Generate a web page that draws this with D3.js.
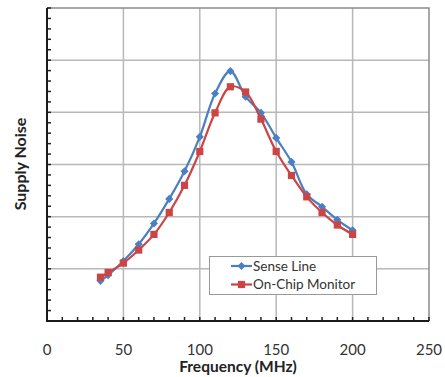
<!DOCTYPE html>
<html>
<head>
<meta charset="utf-8">
<script src="https://cdn.jsdelivr.net/npm/d3@7"></script>
<style>
  body { margin: 0; background: #fff; }
  text { font-family: Lato, "Open Sans", sans-serif; }
</style>
</head>
<body>
<script>
// Data (y is in gridline units, 0..6)
const freq = [35, 40, 50, 60, 70, 80, 90, 100, 110, 120, 130, 140, 150, 160, 170, 180, 190, 200];
const senseLine = [0.77, 0.88, 1.15, 1.47, 1.87, 2.34, 2.87, 3.53, 4.36, 4.79, 4.30, 3.99, 3.51, 3.05, 2.43, 2.19, 1.94, 1.74];
const onChip = [0.84, 0.93, 1.11, 1.36, 1.66, 2.08, 2.60, 3.25, 3.99, 4.49, 4.39, 3.87, 3.25, 2.79, 2.38, 2.08, 1.84, 1.66];
const xTicks = [0, 50, 100, 150, 200, 250];
const seriesNames = ["Sense Line", "On-Chip Monitor"];

const W = 445, H = 377;
const plotL = 47, plotR = 429, plotT = 8, plotB = 321;

const svg = d3.select("body")
    .append("svg")
    .attr("width", W)
    .attr("height", H);

const x = d3.scaleLinear().domain([0, 250]).range([plotL, plotR]);
const y = d3.scaleLinear().domain([0, 6]).range([plotB, plotT]);

// gridlines
svg.append("g")
    .selectAll("line")
    .data(d3.range(1, 6))
    .enter()
    .append("line")
    .attr("x1", plotL).attr("x2", plotR)
    .attr("y1", d => y(d)).attr("y2", d => y(d))
    .attr("stroke", "#b8b8b8")
    .attr("stroke-width", 1.5);

svg.append("g")
    .selectAll("line")
    .data(xTicks.slice(1, -1))
    .enter()
    .append("line")
    .attr("x1", d => x(d)).attr("x2", d => x(d))
    .attr("y1", plotT).attr("y2", plotB)
    .attr("stroke", "#b8b8b8")
    .attr("stroke-width", 1.5);

// top / right border
svg.append("path")
    .attr("d", `M${plotL},${plotT}H${plotR}V${plotB}`)
    .attr("fill", "none")
    .attr("stroke", "#8a8a8a")
    .attr("stroke-width", 1.5);

// minor ticks (pointing inward)
svg.append("g")
    .selectAll("line")
    .data(d3.range(0, 251, 10))
    .enter()
    .append("line")
    .attr("x1", d => x(d)).attr("x2", d => x(d))
    .attr("y1", plotB).attr("y2", plotB - 4)
    .attr("stroke", "#222")
    .attr("stroke-width", 1.5);

svg.append("g")
    .selectAll("line")
    .data(d3.range(0, 6.01, 0.2))
    .enter()
    .append("line")
    .attr("x1", plotL).attr("x2", plotL + 4)
    .attr("y1", d => y(d)).attr("y2", d => y(d))
    .attr("stroke", "#222")
    .attr("stroke-width", 1.5);

// left / bottom axes
svg.append("path")
    .attr("d", `M${plotL},${plotT}V${plotB}H${plotR}`)
    .attr("fill", "none")
    .attr("stroke", "#1a1a1a")
    .attr("stroke-width", 2);

// x tick labels
svg.append("g")
    .selectAll("text")
    .data(xTicks)
    .enter()
    .append("text")
    .attr("x", d => x(d))
    .attr("y", 355)
    .attr("text-anchor", "middle")
    .attr("font-size", 15)
    .attr("fill", "#333")
    .text(d => d);

svg.append("text")
    .attr("x", 238)
    .attr("y", 372)
    .attr("text-anchor", "middle")
    .attr("font-size", 15.5)
    .attr("font-weight", "bold")
    .attr("fill", "#222")
    .text("Frequency (MHz)");

svg.append("text")
    .attr("transform", `translate(26,164) rotate(-90)`)
    .attr("text-anchor", "middle")
    .attr("font-size", 16)
    .attr("font-weight", "bold")
    .attr("fill", "#222")
    .text("Supply Noise");

// series
const colors = ["#4a7fc1", "#cc4444"];
const series = [senseLine, onChip];

const line = d3.line()
    .x(d => x(d[0]))
    .y(d => y(d[1]))
    .curve(d3.curveCatmullRom.alpha(0.5));

const diamond = d3.symbol().type(d3.symbolDiamond2).size(42);
const square = d3.symbol().type(d3.symbolSquare).size(52);
const shapes = [diamond, square];

series.forEach((vals, i) => {
    const pts = freq.map((f, j) => [f, vals[j]]);
    svg.append("path")
        .attr("d", line(pts))
        .attr("fill", "none")
        .attr("stroke", colors[i])
        .attr("stroke-width", 2.2);
    svg.append("g")
        .selectAll("path")
        .data(pts)
        .enter()
        .append("path")
        .attr("transform", d => `translate(${x(d[0])},${y(d[1])})`)
        .attr("d", shapes[i]())
        .attr("fill", colors[i]);
});

// legend
const lg = svg.append("g");
lg.append("rect")
    .attr("x", 209.5).attr("y", 256.5)
    .attr("width", 167).attr("height", 38)
    .attr("fill", "#fff")
    .attr("stroke", "#999")
    .attr("stroke-width", 1);

seriesNames.forEach((name, i) => {
    const ly = 266 + i * 18.5;
    lg.append("line")
        .attr("x1", 231).attr("x2", 252)
        .attr("y1", ly).attr("y2", ly)
        .attr("stroke", colors[i])
        .attr("stroke-width", 2.2);
    lg.append("path")
        .attr("transform", `translate(241.5,${ly})`)
        .attr("d", shapes[i]())
        .attr("fill", colors[i]);
    lg.append("text")
        .attr("x", 253)
        .attr("y", ly + 4.5)
        .attr("font-size", 13.5)
        .attr("fill", "#333")
        .text(name);
});
</script>
</body>
</html>
